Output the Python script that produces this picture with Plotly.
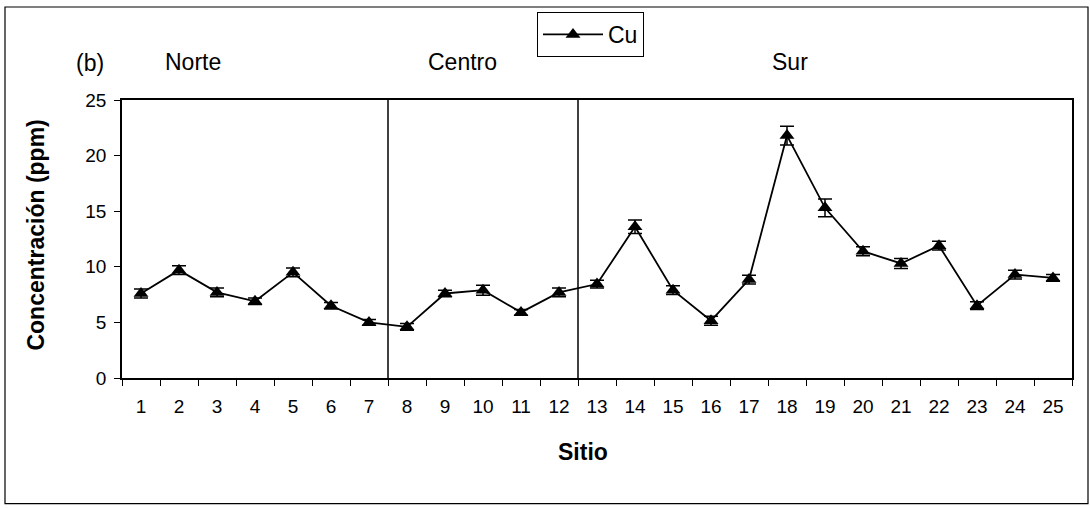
import plotly.graph_objects as go

sites = [str(i) for i in range(1, 26)]
cu = [7.6, 9.7, 7.7, 6.9, 9.5, 6.5, 5.0, 4.6, 7.6, 7.9, 5.9, 7.7, 8.45,
      13.6, 7.9, 5.15, 8.85, 21.8, 15.3, 11.4, 10.3, 11.9, 6.5, 9.3, 9.0]
cu_err = [0.4, 0.4, 0.4, 0.3, 0.4, 0.3, 0.25, 0.3, 0.3, 0.45, 0.25, 0.4, 0.35,
          0.6, 0.4, 0.4, 0.4, 0.85, 0.8, 0.4, 0.45, 0.4, 0.35, 0.4, 0.3]
zone_labels = ["Norte", "Centro", "Sur"]
y_ticks = [0, 5, 10, 15, 20, 25]

FONT = "Liberation Sans, Arial, sans-serif"
L, T, W, H = 122, 97, 950, 281


def px(xp):
    return (xp - L) / W


def py(yp):
    return (T + H - yp) / H


fig = go.Figure()
fig.add_trace(go.Scatter(
    x=sites, y=cu, name="Cu", mode="lines+markers",
    line=dict(color="black", width=1.8),
    marker=dict(symbol="triangle-up", size=13, color="black"),
    error_y=dict(type="data", array=cu_err, visible=True, color="black",
                 thickness=1.5, width=7),
))

for xv in [6.5, 11.5]:
    fig.add_shape(type="line", xref="x", yref="paper", x0=xv, x1=xv, y0=0, y1=1,
                  line=dict(color="black", width=1.5))

fig.add_shape(type="rect", xref="paper", yref="paper",
              x0=px(5), x1=px(1088), y0=py(505), y1=py(3),
              line=dict(color="black", width=1.2))

ann_font = dict(family=FONT, size=23, color="black")


def ann(text, x, y, **kw):
    fig.add_annotation(text=text, xref="paper", yref="paper", x=px(x), y=py(y),
                       xanchor="center", yanchor="middle", showarrow=False,
                       font=ann_font, **kw)


ann("(b)", 90, 60)
for lab, xp in zip(zone_labels, [193, 462, 790]):
    ann(lab, xp, 59)
ann("<b>Sitio</b>", 583, 453)
ann("<b>Concentración (ppm)</b>", 36, 234, textangle=-90)

fig.update_layout(
    width=1090, height=508,
    margin=dict(l=L, r=1090 - L - W, t=T, b=508 - T - H),
    paper_bgcolor="white", plot_bgcolor="white",
    font=dict(family=FONT, size=19, color="black"),
    showlegend=True,
    legend=dict(x=px(537), y=py(8), xanchor="left", yanchor="top",
                bordercolor="black", borderwidth=1, bgcolor="white",
                itemwidth=60, font=dict(family=FONT, size=23)),
    xaxis=dict(type="category", range=[-0.5, 24.5], tickson="boundaries",
               ticks="outside", ticklen=6, tickcolor="black", tickwidth=1,
               ticklabelstandoff=10,
               showline=True, linecolor="black", linewidth=2, mirror=True,
               showgrid=False, zeroline=False, automargin=False,
               tickfont=dict(family=FONT, size=19)),
    yaxis=dict(range=[0, 25], tickvals=y_ticks, ticks="outside", ticklen=6,
               tickcolor="black", showline=True, linecolor="black", linewidth=1.5,
               ticklabelstandoff=4,
               mirror=True, showgrid=False, zeroline=False, automargin=False,
               tickfont=dict(family=FONT, size=19)),
)

fig.write_html("out.html", config={"displayModeBar": False})

with open("out.html", encoding="utf-8") as f:
    html = f.read()
html = html.replace("<head>", "<head><style>html,body{margin:0;padding:0;overflow:hidden;}</style>", 1)
with open("out.html", "w", encoding="utf-8") as f:
    f.write(html)
